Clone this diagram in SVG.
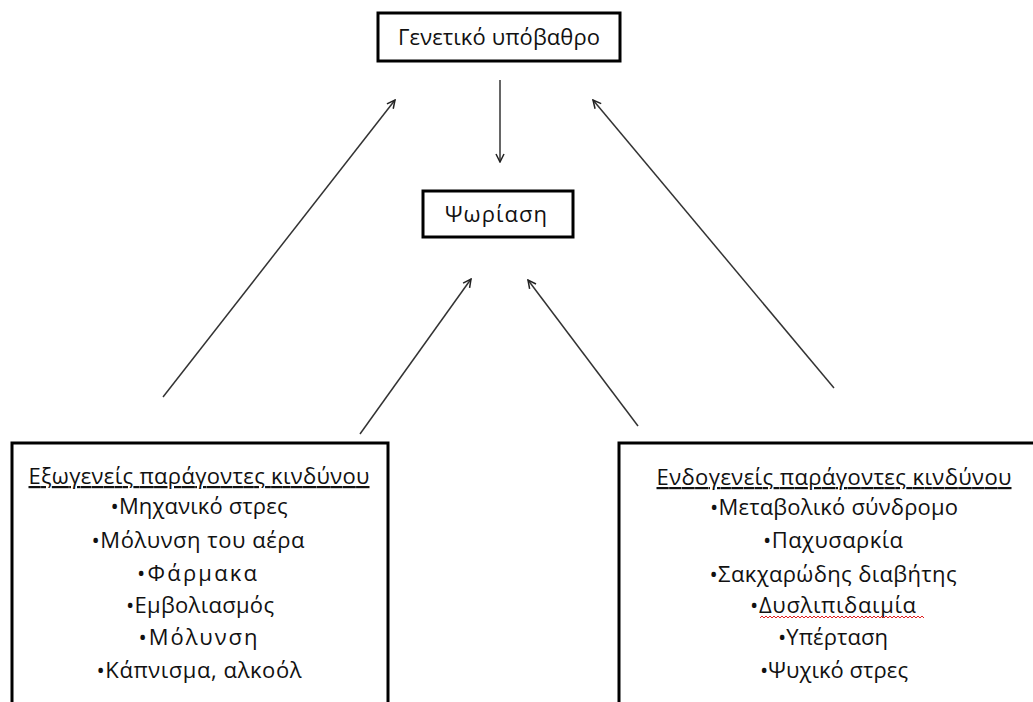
<svg xmlns="http://www.w3.org/2000/svg" width="1033" height="702" viewBox="0 0 1033 702">
<defs>
<style>
.box{fill:#fff;stroke:#000;stroke-width:3}
.t{font-family:"Open Sans","Liberation Sans",Arial,sans-serif;font-size:22px;fill:#111;text-anchor:middle}
.c{stroke:#333;stroke-width:1.5;fill:none}
</style>
<marker id="ah" viewBox="0 0 10 10" refX="9" refY="5" markerWidth="10" markerHeight="10" markerUnits="userSpaceOnUse" orient="auto">
<path d="M1,1 L9,5 L1,9" fill="none" stroke="#222" stroke-width="1.5"/>
</marker>
</defs>
<rect width="1033" height="702" fill="#fff"/>
<g id="connectors">
<line class="c" x1="500" y1="80" x2="500" y2="162" marker-end="url(#ah)"/>
<line class="c" x1="163" y1="397" x2="395" y2="100" marker-end="url(#ah)"/>
<line class="c" x1="360" y1="434" x2="471" y2="279" marker-end="url(#ah)"/>
<line class="c" x1="638" y1="426" x2="528" y2="280" marker-end="url(#ah)"/>
<line class="c" x1="834" y1="388" x2="593" y2="100" marker-end="url(#ah)"/>
</g>
<g id="genetic">
<rect class="box" x="378" y="13" width="242" height="48"/>
<text class="t" x="499" y="45" textLength="202" lengthAdjust="spacing">Γενετικό υπόβαθρο</text>
</g>
<g id="psoriasis">
<rect class="box" x="423" y="191" width="150" height="46"/>
<text class="t" x="496" y="222" textLength="102" lengthAdjust="spacing">Ψωρίαση</text>
</g>
<g id="exogenous">
<rect class="box" x="12" y="443" width="376" height="280"/>
<text class="t" x="199" y="484" textLength="341" lengthAdjust="spacing" text-decoration="underline">Εξωγενείς παράγοντες  κινδύνου</text>
<text class="t" x="199" y="514" textLength="177" lengthAdjust="spacing">•Μηχανικό στρες</text>
<text class="t" x="198" y="548" textLength="213" lengthAdjust="spacing">•Μόλυνση του αέρα</text>
<text class="t" x="197" y="581" textLength="120" lengthAdjust="spacing">•Φάρμακα</text>
<text class="t" x="200" y="613" textLength="148" lengthAdjust="spacing">•Εμβολιασμός</text>
<text class="t" x="198" y="645" textLength="119" lengthAdjust="spacing">•Μόλυνση</text>
<text class="t" x="199" y="678" textLength="205" lengthAdjust="spacing">•Κάπνισμα, αλκοόλ</text>
</g>
<g id="endogenous">
<rect class="box" x="619" y="443" width="430" height="280"/>
<text class="t" x="834" y="485" textLength="355" lengthAdjust="spacing" text-decoration="underline">Ενδογενείς παράγοντες  κινδύνου</text>
<text class="t" x="834" y="515" textLength="248" lengthAdjust="spacing">•Μεταβολικό σύνδρομο</text>
<text class="t" x="833" y="548" textLength="140" lengthAdjust="spacing">•Παχυσαρκία</text>
<text class="t" x="833" y="582" textLength="247" lengthAdjust="spacing">•Σακχαρώδης διαβήτης</text>
<text class="t" x="833" y="613" textLength="166" lengthAdjust="spacing">•Δυσλιπιδαιμία</text>
<path d="M760,618 l2,-2 l2,2 l2,-2 l2,2 l2,-2 l2,2 l2,-2 l2,2 l2,-2 l2,2 l2,-2 l2,2 l2,-2 l2,2 l2,-2 l2,2 l2,-2 l2,2 l2,-2 l2,2 l2,-2 l2,2 l2,-2 l2,2 l2,-2 l2,2 l2,-2 l2,2 l2,-2 l2,2 l2,-2 l2,2 l2,-2 l2,2 l2,-2 l2,2 l2,-2 l2,2 l2,-2 l2,2 l2,-2 l2,2 l2,-2 l2,2 l2,-2 l2,2 l2,-2 l2,2 l2,-2 l2,2 l2,-2 l2,2 l2,-2 l2,2 l2,-2 l2,2 l2,-2 l2,2 l2,-2 l2,2 l2,-2 l2,2 l2,-2 l2,2 l2,-2 l2,2 l2,-2 l2,2 l2,-2 l2,2 l2,-2 l2,2 l2,-2 l2,2 l2,-2 l2,2 l2,-2 l2,2 l2,-2 l2,2 l2,-2 l2,2" fill="none" stroke="#e02020" stroke-width="1"/>
<text class="t" x="833" y="645" textLength="110" lengthAdjust="spacing">•Υπέρταση</text>
<text class="t" x="834" y="678" textLength="148" lengthAdjust="spacing">•Ψυχικό στρες</text>
</g>
</svg>
